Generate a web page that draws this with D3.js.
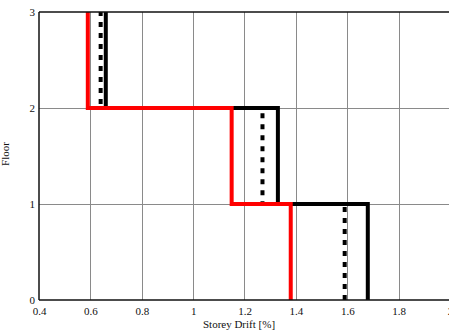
<!DOCTYPE html>
<html>
<head>
<meta charset="utf-8">
<script src="https://cdn.jsdelivr.net/npm/d3@7"></script>
<style>
  html, body { margin: 0; padding: 0; background: #fff; }
  svg { display: block; }
  text { font-family: "Liberation Serif", "Times New Roman", serif; fill: #111; }
</style>
</head>
<body>
<svg id="chart" width="449" height="335"></svg>
<script>
// Storey drift per storey (storey 1 = between floor 0 and floor 1)
const storeys = [1, 2, 3];
const driftBlack = [1.68, 1.33, 0.66];
const driftDotted = [1.59, 1.27, 0.64];
const driftRed = [1.38, 1.15, 0.59];

const xTicks = [0.4, 0.6, 0.8, 1.0, 1.2, 1.4, 1.6, 1.8, 2.0];
const yTicks = [0, 1, 2, 3];

const svg = d3.select("#chart");

const x = d3.scaleLinear().domain([0.4, 2.0]).range([39, 450]);
const y = d3.scaleLinear().domain([0, 3]).range([300, 12]);

// grid lines
const grid = svg.append("g").attr("stroke", "#8a8a8a").attr("stroke-width", 1);
grid.selectAll("line.v").data(xTicks.slice(1, -1)).join("line")
  .attr("class", "v")
  .attr("x1", d => Math.round(x(d)) + 0.5).attr("x2", d => Math.round(x(d)) + 0.5)
  .attr("y1", y(3)).attr("y2", y(0));
grid.selectAll("line.h").data(yTicks.slice(1, -1)).join("line")
  .attr("class", "h")
  .attr("y1", d => Math.round(y(d)) + 0.5).attr("y2", d => Math.round(y(d)) + 0.5)
  .attr("x1", x(0.4)).attr("x2", x(2.0));

// step profile: vertical segment over each storey, joined horizontally at each floor
function profile(values) {
  const pts = [];
  storeys.forEach((s, i) => {
    pts.push([values[i], s - 1]);
    pts.push([values[i], s]);
  });
  return pts;
}
const line = d3.line().x(d => x(d[0])).y(d => y(d[1]));

const series = [
  { values: driftBlack, color: "#000", dash: null },
  { values: driftDotted, color: "#000", dash: "5,6" },
  { values: driftRed, color: "#ff0000", dash: null }
];

svg.append("g").selectAll("path").data(series).join("path")
  .attr("d", d => line(profile(d.values)))
  .attr("fill", "none")
  .attr("stroke", d => d.color)
  .attr("stroke-width", 4)
  .attr("stroke-linejoin", "miter")
  .attr("stroke-dasharray", d => d.dash);

// axes frame (left, bottom, top)
const frame = svg.append("g").attr("stroke", "#111").attr("stroke-width", 1.5);
frame.append("line").attr("x1", x(0.4)).attr("x2", x(0.4)).attr("y1", y(3)).attr("y2", y(0));
frame.append("line").attr("x1", x(0.4)).attr("x2", x(2.0)).attr("y1", y(0)).attr("y2", y(0));
frame.append("line").attr("x1", x(0.4)).attr("x2", x(2.0)).attr("y1", y(3)).attr("y2", y(3));

// tick labels
const xAxis = d3.axisBottom(x).tickValues(xTicks).tickSize(0).tickPadding(7)
  .tickFormat(d => d3.format("")(+d.toFixed(1)));
const gx = svg.append("g").attr("transform", `translate(0,${y(0)})`).call(xAxis);
gx.select(".domain").remove();
gx.selectAll("text").attr("font-size", 11).attr("font-family", "Liberation Serif").attr("fill", "#111");

const yAxis = d3.axisLeft(y).tickValues(yTicks).tickSize(0).tickPadding(4).tickFormat(d3.format("d"));
const gy = svg.append("g").attr("transform", `translate(${x(0.4)},0)`).call(yAxis);
gy.select(".domain").remove();
gy.selectAll("text").attr("font-size", 11).attr("font-family", "Liberation Serif").attr("fill", "#111");

// axis titles
svg.append("text")
  .attr("x", 239).attr("y", 327.5)
  .attr("text-anchor", "middle").attr("font-size", 11)
  .text("Storey Drift [%]");
svg.append("text")
  .attr("transform", `translate(8.5,${(y(0) + y(3)) / 2 - 2}) rotate(-90)`)
  .attr("text-anchor", "middle").attr("font-size", 11)
  .text("Floor");
</script>
</body>
</html>
